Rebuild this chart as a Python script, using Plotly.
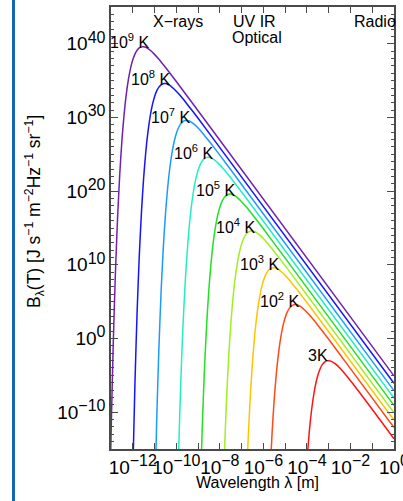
import plotly.graph_objects as go

# ---- data (log10 wavelength [m], log10 B_lambda) ----
temps = ["1e9", "1e8", "1e7", "1e6", "1e5", "1e4", "1e3", "1e2", "3"]

loglam_1e9 = [-13.05, -13.0, -12.9, -12.8, -12.7, -12.6, -12.5, -12.4, -12.3, -12.2, -12.1, -12.0, -11.9, -11.8, -11.7, -11.6, -11.5, -11.4, -11.3, -11.2, -11.0, -10.8, -10.5, -10.0, -9.0, 0.0]
logB_1e9 = [-20.78, -13.41, -1.06, 8.65, 16.26, 22.20, 26.82, 30.38, 33.11, 35.17, 36.71, 37.83, 38.61, 39.13, 39.44, 39.59, 39.60, 39.52, 39.35, 39.13, 38.57, 37.91, 36.81, 34.89, 30.91, -5.08]

loglam_1e8 = [-12.0, -11.9, -11.8, -11.7, -11.6, -11.5, -11.4, -11.3, -11.2, -11.1, -11.0, -10.9, -10.8, -10.7, -10.6, -10.5, -10.4, -10.3, -10.2, -10.0, -9.8, -9.5, -9.0, -8.0, 0.0]
logB_1e8 = [-18.41, -6.06, 3.65, 11.26, 17.20, 21.82, 25.38, 28.11, 30.17, 31.71, 32.83, 33.61, 34.13, 34.44, 34.59, 34.60, 34.52, 34.35, 34.13, 33.57, 32.91, 31.81, 29.89, 25.91, -6.08]

loglam_1e7 = [-11.0, -10.9, -10.8, -10.7, -10.6, -10.5, -10.4, -10.3, -10.2, -10.1, -10.0, -9.9, -9.8, -9.7, -9.6, -9.5, -9.4, -9.3, -9.2, -9.0, -8.8, -8.5, -8.0, -7.0, 0.0]
logB_1e7 = [-23.41, -11.06, -1.35, 6.26, 12.20, 16.82, 20.38, 23.11, 25.17, 26.71, 27.83, 28.61, 29.13, 29.44, 29.59, 29.60, 29.52, 29.35, 29.13, 28.57, 27.91, 26.81, 24.89, 20.91, -7.08]

loglam_1e6 = [-9.9, -9.8, -9.7, -9.6, -9.5, -9.4, -9.3, -9.2, -9.1, -9.0, -8.9, -8.8, -8.7, -8.6, -8.5, -8.4, -8.3, -8.2, -8.0, -7.8, -7.5, -7.0, -6.0, 0.0]
logB_1e6 = [-16.06, -6.35, 1.26, 7.20, 11.82, 15.38, 18.11, 20.17, 21.71, 22.83, 23.61, 24.13, 24.44, 24.59, 24.60, 24.52, 24.35, 24.13, 23.57, 22.91, 21.81, 19.89, 15.91, -8.08]

loglam_1e5 = [-8.9, -8.8, -8.7, -8.6, -8.5, -8.4, -8.3, -8.2, -8.1, -8.0, -7.9, -7.8, -7.7, -7.6, -7.5, -7.4, -7.3, -7.2, -7.0, -6.8, -6.5, -6.0, -5.0, 0.0]
logB_1e5 = [-21.06, -11.35, -3.74, 2.20, 6.82, 10.38, 13.11, 15.17, 16.71, 17.83, 18.61, 19.13, 19.44, 19.59, 19.60, 19.52, 19.35, 19.13, 18.57, 17.91, 16.81, 14.89, 10.91, -9.08]

loglam_1e4 = [-7.8, -7.7, -7.6, -7.5, -7.4, -7.3, -7.2, -7.1, -7.0, -6.9, -6.8, -6.7, -6.6, -6.5, -6.4, -6.3, -6.2, -6.0, -5.8, -5.5, -5.0, -4.0, 0.0]
logB_1e4 = [-16.35, -8.74, -2.80, 1.82, 5.38, 8.11, 10.17, 11.71, 12.83, 13.61, 14.13, 14.44, 14.59, 14.60, 14.52, 14.35, 14.13, 13.57, 12.91, 11.81, 9.89, 5.91, -10.08]

loglam_1e3 = [-6.8, -6.7, -6.6, -6.5, -6.4, -6.3, -6.2, -6.1, -6.0, -5.9, -5.8, -5.7, -5.6, -5.5, -5.4, -5.3, -5.2, -5.0, -4.8, -4.5, -4.0, -3.0, 0.0]
logB_1e3 = [-21.35, -13.74, -7.80, -3.18, 0.38, 3.11, 5.17, 6.71, 7.83, 8.61, 9.13, 9.44, 9.59, 9.60, 9.52, 9.35, 9.13, 8.57, 7.91, 6.81, 4.89, 0.91, -11.08]

loglam_1e2 = [-5.7, -5.6, -5.5, -5.4, -5.3, -5.2, -5.1, -5.0, -4.9, -4.8, -4.7, -4.6, -4.5, -4.4, -4.3, -4.2, -4.0, -3.8, -3.5, -3.0, -2.0, 0.0]
logB_1e2 = [-18.74, -12.80, -8.18, -4.62, -1.89, 0.17, 1.71, 2.83, 3.61, 4.13, 4.44, 4.59, 4.60, 4.52, 4.35, 4.13, 3.57, 2.91, 1.81, -0.11, -4.09, -12.08]

loglam_3 = [-3.977, -3.877, -3.777, -3.677, -3.577, -3.477, -3.377, -3.277, -3.177, -3.077, -2.977, -2.877, -2.777, -2.677, -2.477, -2.277, -1.977, -1.477, -0.477, 0.0]
logB_3 = [-15.79, -12.23, -9.50, -7.44, -5.90, -4.79, -4.00, -3.48, -3.17, -3.03, -3.01, -3.10, -3.26, -3.48, -4.05, -4.71, -5.80, -7.73, -11.70, -13.61]

curve_labels = ["10<sup>9</sup> K", "10<sup>8</sup> K", "10<sup>7</sup> K", "10<sup>6</sup> K",
                "10<sup>5</sup> K", "10<sup>4</sup> K", "10<sup>3</sup> K", "10<sup>2</sup> K", "3K"]
label_loglam = [-12.17, -11.17, -10.25, -9.19, -8.18, -7.27, -6.17, -5.25, -3.50]
label_logB = [40.45, 35.42, 30.27, 25.38, 20.36, 15.34, 10.31, 5.29, -2.31]

colors = ["#7020b0", "#1414ff", "#1a9cff", "#22eec4", "#22e022", "#a2ee22", "#ffc400", "#ff4a14", "#ff1414"]

xtick_exp = [-12, -10, -8, -6, -4, -2, 0]
ytick_exp = [-10, 0, 10, 20, 30, 40]

series = [
    (loglam_1e9, logB_1e9), (loglam_1e8, logB_1e8), (loglam_1e7, logB_1e7),
    (loglam_1e6, logB_1e6), (loglam_1e5, logB_1e5), (loglam_1e4, logB_1e4),
    (loglam_1e3, logB_1e3), (loglam_1e2, logB_1e2), (loglam_3, logB_3),
]

FONT = "Liberation Sans, Arial, Helvetica, sans-serif"
AX = "#4a4a4a"

fig = go.Figure()
for (lx, ly), c, t in zip(series, colors, temps):
    fig.add_trace(go.Scatter(
        x=[10 ** v for v in lx], y=[10 ** v for v in ly],
        mode="lines", line=dict(color=c, width=1.5, shape="spline", smoothing=0.6),
        name=t, showlegend=False, hoverinfo="skip"))

def sup_label(e):
    s = str(e).replace("-", "\u2212")
    return '10<sup><span style="font-size:16px">' + s + '</span></sup>'

fig.update_layout(
    width=403, height=501,
    margin=dict(l=111, r=9, t=7, b=52, autoexpand=False),
    paper_bgcolor="white", plot_bgcolor="white",
    font=dict(family=FONT, color="black", size=16),
    xaxis=dict(
        type="log", range=[-13, 0.0005], showgrid=False, zeroline=False, automargin=False,
        tickvals=[10.0 ** e for e in xtick_exp], ticktext=[sup_label(e) for e in xtick_exp],
        tickangle=0, tickfont=dict(size=19, family=FONT, color="black"),
        ticklabeloverflow="allow",
        ticks="inside", ticklen=6, tickwidth=1.2, tickcolor=AX,
        showline=True, linecolor=AX, linewidth=1.5, mirror="ticks",
        minor=dict(tickvals=[10.0 ** e for e in range(-13, 0) if e not in xtick_exp],
                   ticks="inside", ticklen=6, tickwidth=1.2, tickcolor=AX),
    ),
    yaxis=dict(
        type="log", range=[-15, 45], showgrid=False, zeroline=False, automargin=False,
        tickvals=[10.0 ** e for e in ytick_exp], ticktext=[sup_label(e) for e in ytick_exp],
        tickfont=dict(size=19, family=FONT, color="black"),
        ticklabeloverflow="allow",
        ticks="inside", ticklen=7, tickwidth=1.2, tickcolor=AX,
        showline=True, linecolor=AX, linewidth=1.5, mirror="ticks",
        minor=dict(tickvals=[10.0 ** e for e in range(-14, 45) if e not in ytick_exp],
                   ticks="inside", ticklen=3.5, tickwidth=1.2, tickcolor=AX),
    ),
)

W0, W1 = 111, 394
H0, H1 = 7, 449
def px(xp):
    return (xp - W0) / (W1 - W0)
def py(yp):
    return (H1 - yp) / (H1 - H0)

annotations = []
for txt, lx, ly in zip(curve_labels, label_loglam, label_logB):
    annotations.append(dict(x=lx, y=ly, xref="x", yref="y", text=txt, showarrow=False,
                            font=dict(size=16, family=FONT, color="black"),
                            xanchor="center", yanchor="middle"))

region_text = ["X\u2212rays", "UV IR", "Optical", "Radio"]
region_px = [(151, 22), (231, 22), (230, 38), (352, 22)]
for txt, (xp, yp) in zip(region_text, region_px):
    annotations.append(dict(x=px(xp), y=py(yp), xref="paper", yref="paper", text=txt,
                            showarrow=False, font=dict(size=16, family=FONT, color="black"),
                            xanchor="left", yanchor="middle"))

annotations.append(dict(x=px(257), y=py(482), xref="paper", yref="paper",
                        text="Wavelength \u03bb [m]", showarrow=False,
                        font=dict(size=16, family=FONT, color="black"),
                        xanchor="center", yanchor="middle"))
annotations.append(dict(x=px(34), y=py(212), xref="paper", yref="paper", textangle=-90,
                        text="B<sub>\u03bb</sub>(T) [J s<sup>\u22121</sup> m<sup>\u22122</sup>Hz<sup>\u22121</sup> sr<sup>\u22121</sup>]",
                        showarrow=False, font=dict(size=17.5, family=FONT, color="black"),
                        xanchor="center", yanchor="middle"))
fig.update_layout(annotations=annotations)

fig.add_shape(type="rect", xref="paper", yref="paper",
              x0=px(12), x1=px(15), y0=py(-5), y1=py(510),
              line=dict(width=0), fillcolor="#1565b8", layer="above")

fig.write_html("out.html", config={"displayModeBar": False},
               post_script="document.body.style.margin='0';document.body.style.overflow='hidden';")
